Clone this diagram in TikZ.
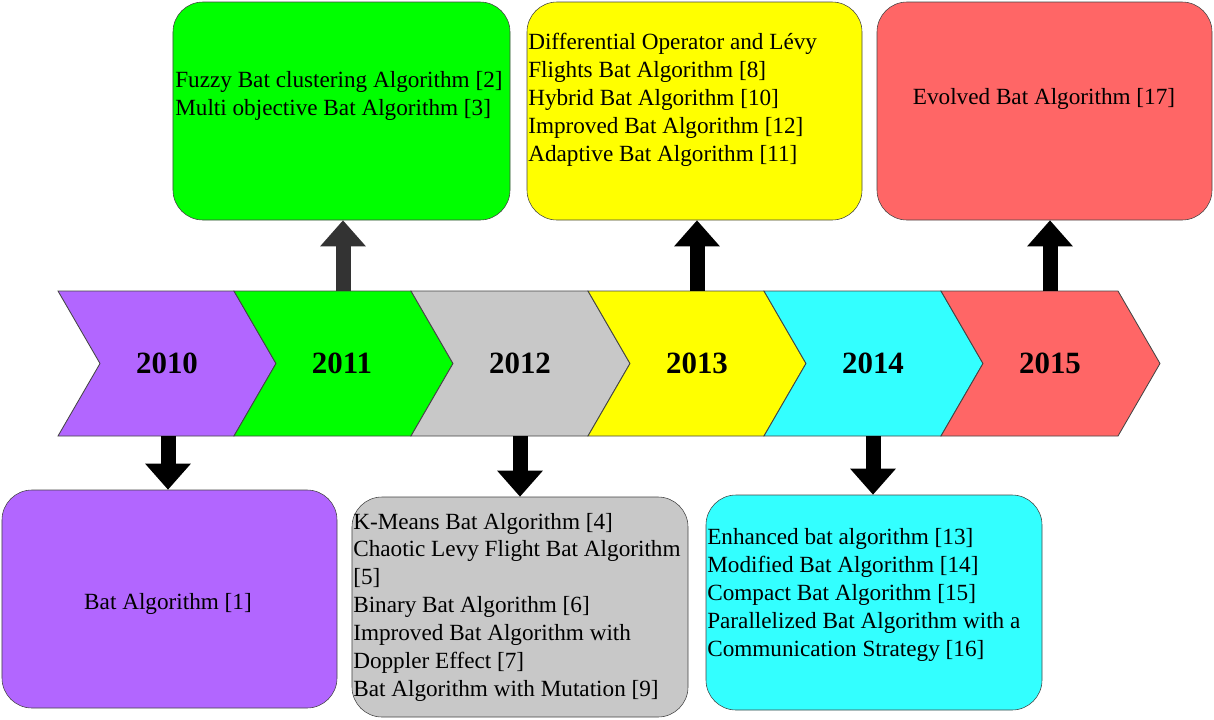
\documentclass[tikz,border=0pt]{standalone}
\usepackage{fontspec}
\setmainfont{Liberation Serif}
\usetikzlibrary{arrows.meta,positioning,calc}
\definecolor{batpurple}{HTML}{B266FF}
\definecolor{batgreen}{HTML}{00FF00}
\definecolor{batgray}{HTML}{C8C8C8}
\definecolor{batyellow}{HTML}{FFFF00}
\definecolor{batcyan}{HTML}{33FFFF}
\definecolor{batred}{HTML}{FF6666}
\definecolor{batedge}{HTML}{444444}
\definecolor{batarrow}{HTML}{333333}
\newcommand{\batfont}{\fontsize{16.5}{19.8}\selectfont}
\newcommand{\yearfont}{\fontsize{22}{26}\selectfont\bfseries}

\begin{document}
\begin{tikzpicture}[x=0.25mm,y=-0.25mm]

\tikzset{>={Triangle[width=11mm,length=6.5mm]}}
\useasboundingbox (0,0) rectangle (1214,719);

% time line
\draw[fill=batpurple,draw=batedge,line width=0.6pt](58,291)--(234,291)--(276,363.5)--(234,436)--(58,436)--(100,363.5)--cycle;
\draw[fill=batgreen,draw=batedge,line width=0.6pt](234,291)--(411,291)--(453,363.5)--(411,436)--(234,436)--(276,363.5)--cycle;
\draw[fill=batgray,draw=batedge,line width=0.6pt](411,291)--(588,291)--(630,363.5)--(588,436)--(411,436)--(453,363.5)--cycle;
\draw[fill=batyellow,draw=batedge,line width=0.6pt](588,291)--(764,291)--(806,363.5)--(764,436)--(588,436)--(630,363.5)--cycle;
\draw[fill=batcyan,draw=batedge,line width=0.6pt](764,291)--(941,291)--(983,363.5)--(941,436)--(764,436)--(806,363.5)--cycle;
\draw[fill=batred,draw=batedge,line width=0.6pt](941,291)--(1118,291)--(1160,363.5)--(1118,436)--(941,436)--(983,363.5)--cycle;

\node[anchor=center,font=\yearfont] (y2010) at (167,363) {2010};
\node[anchor=center,font=\yearfont] (y2011) at (342,363) {2011};
\node[anchor=center,font=\yearfont] (y2012) at (520,363) {2012};
\node[anchor=center,font=\yearfont] (y2013) at (697,363) {2013};
\node[anchor=center,font=\yearfont] (y2014) at (873,363) {2014};
\node[anchor=center,font=\yearfont] (y2015) at (1050,363) {2015};

\coordinate (s2010) at (168,436);
\coordinate (s2011) at (343,291);
\coordinate (s2012) at (520,436);
\coordinate (s2013) at (697,291);
\coordinate (s2014) at (873,436);
\coordinate (s2015) at (1050,291);

%===================================================================
% upper boxes
\node[fill=batgreen] at (341.5,111) [draw=batedge,name=b2011,rectangle,rounded corners=7.5mm,minimum width=84.25mm,minimum height=54.5mm] {};
\node[fill=batyellow] at (694.5,111) [draw=batedge,name=b2013,rectangle,rounded corners=7.5mm,minimum width=83.75mm,minimum height=54.5mm] {};
\node[fill=batred] at (1044.5,111) [draw=batedge,name=b2015,rectangle,rounded corners=7.5mm,minimum width=83.75mm,minimum height=54.5mm] {};

\node[anchor=west,font=\batfont,align=left,inner sep=0pt] at (175,96) {Fuzzy Bat clustering Algorithm [2]\\Multi objective Bat Algorithm [3]};
\node[anchor=west,font=\batfont,align=left,inner sep=0pt] at (528,100) {Differential Operator and Lévy\\Flights Bat Algorithm [8]\\Hybrid Bat Algorithm [10]\\Improved Bat Algorithm [12]\\Adaptive Bat Algorithm [11]};
\node[anchor=center,font=\batfont] at (1044,99) {Evolved Bat Algorithm [17]};

%===================================================================
% lower boxes
\node[fill=batpurple] at (169.5,599) [draw=batedge,name=b2010,rectangle,rounded corners=7.5mm,minimum width=83.75mm,minimum height=54.5mm] {};
\node[fill=batgray] at (520,607) [draw=batedge,name=b2012,rectangle,rounded corners=7.5mm,minimum width=84mm,minimum height=55mm] {};
\node[fill=batcyan] at (874,602.5) [draw=batedge,name=b2014,rectangle,rounded corners=7.5mm,minimum width=84mm,minimum height=53.75mm] {};

\node[anchor=center,font=\batfont] at (168,604) {Bat Algorithm [1]};
\node[anchor=west,font=\batfont,align=left,inner sep=0pt] at (353,607) {K-Means Bat Algorithm [4]\\Chaotic Levy Flight Bat Algorithm\\{}[5]\\Binary Bat Algorithm [6]\\Improved Bat Algorithm with\\Doppler Effect [7]\\Bat Algorithm with Mutation [9]};
\node[anchor=west,font=\batfont,align=left,inner sep=0pt] at (707,595) {Enhanced bat algorithm [13]\\Modified Bat Algorithm [14]\\Compact Bat Algorithm [15]\\Parallelized Bat Algorithm with a\\Communication Strategy [16]};

%===================================================================
\draw[->,line width=3.75mm,batarrow] (s2011)--(s2011 |- b2011.south);
\draw[->,line width=3.75mm] (s2013)--(s2013 |- b2013.south);
\draw[->,line width=3.75mm] (s2015)--(s2015 |- b2015.south);
\draw[->,line width=3.75mm] (s2010)--(s2010 |- b2010.north);
\draw[->,line width=3.75mm] (s2012)--(s2012 |- b2012.north);
\draw[->,line width=3.75mm] (s2014)--(s2014 |- b2014.north);
\end{tikzpicture}
\end{document}
